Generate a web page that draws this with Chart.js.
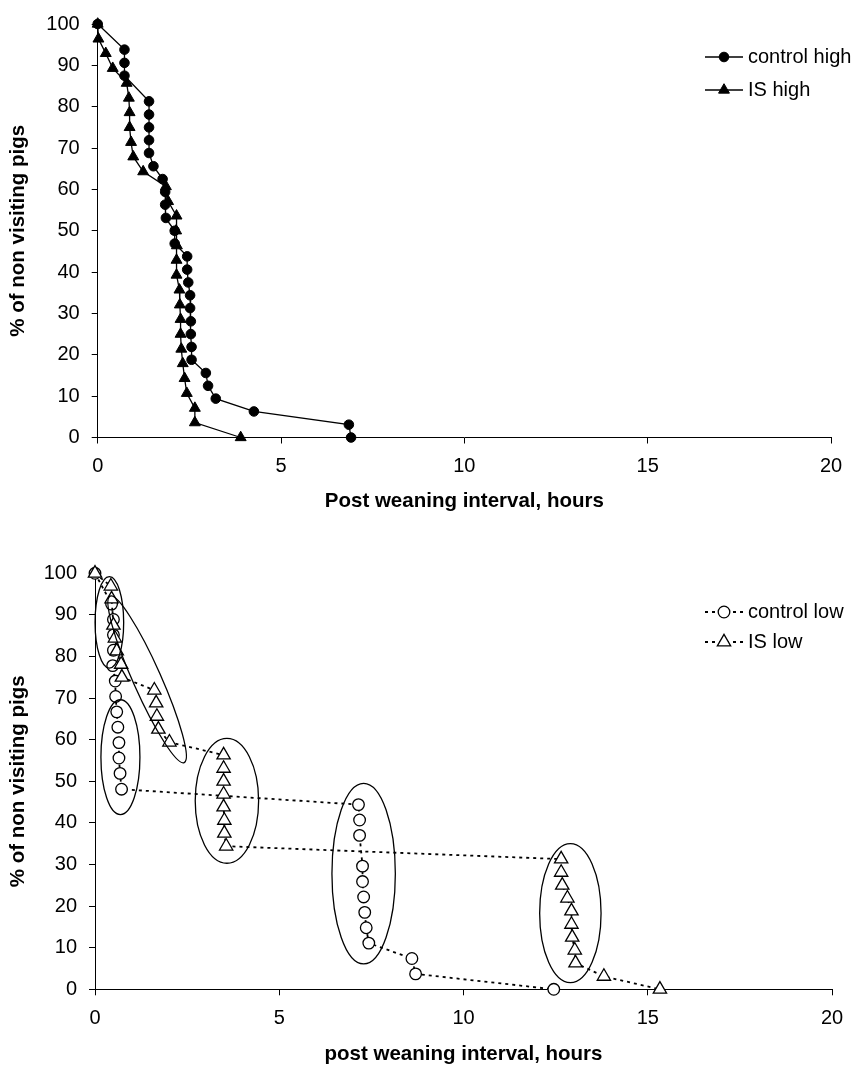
<!DOCTYPE html>
<html>
<head>
<meta charset="utf-8">
<script src="https://cdn.jsdelivr.net/npm/chart.js@4/dist/chart.umd.min.js"></script>
<style>
    html, body { margin: 0; padding: 0; background: #fff; }
    canvas { display: block; }
</style>
</head>
<body>
<canvas id="grafico-alto" width="856" height="535"></canvas>
<canvas id="grafico-baixo" width="856" height="535"></canvas>
<script>
// valores (horas apos o desmame, % de leitoes que ainda nao visitaram)
const horas_controle_alto = [0, 0.73, 0.73, 0.73, 1.40, 1.40, 1.40, 1.40, 1.40, 1.52, 1.77, 1.84, 1.84, 1.86, 2.10, 2.10,
    2.44, 2.44, 2.47, 2.52, 2.52, 2.54, 2.54, 2.56, 2.56, 2.95, 3.01, 3.22, 4.26, 6.85, 6.91];
const pct_controle_alto = [100, 93.8, 90.6, 87.5, 81.3, 78.1, 75.0, 71.9, 68.8, 65.6, 62.5, 59.4, 56.3, 53.1, 50.0, 46.9,
    43.8, 40.6, 37.5, 34.4, 31.3, 28.1, 25.0, 21.9, 18.8, 15.6, 12.5, 9.4, 6.3, 3.1, 0];

const horas_is_alto = [0, 0.02, 0.22, 0.41, 0.79, 0.85, 0.87, 0.87, 0.91, 0.97, 1.24, 1.86, 1.92, 2.15, 2.14, 2.16, 2.15,
    2.15, 2.23, 2.24, 2.26, 2.26, 2.28, 2.32, 2.37, 2.43, 2.65, 2.65, 3.90];
const pct_is_alto = [100, 96.4, 92.9, 89.3, 85.7, 82.1, 78.6, 75.0, 71.4, 67.9, 64.3, 60.7, 57.1, 53.6, 50.0, 46.4, 42.9,
    39.3, 35.7, 32.1, 28.6, 25.0, 21.4, 17.9, 14.3, 10.7, 7.1, 3.6, 0];

const horas_controle_baixo = [0, 0.45, 0.50, 0.50, 0.50, 0.48, 0.55, 0.56, 0.59, 0.62, 0.65, 0.65, 0.68, 0.72,
    7.15, 7.18, 7.18, 7.26, 7.26, 7.29, 7.32, 7.36, 7.43, 8.6, 8.7, 12.45];
const pct_controle_baixo = [100, 92.6, 88.9, 85.2, 81.5, 77.8, 74.1, 70.4, 66.7, 63.0, 59.3, 55.6, 51.9, 48.1,
    44.4, 40.7, 37.0, 29.6, 25.9, 22.2, 18.5, 14.8, 11.1, 7.4, 3.7, 0];

const horas_is_baixo = [0, 0.43, 0.45, 0.50, 0.54, 0.59, 0.71, 0.73, 1.61, 1.66, 1.68, 1.72, 2.02,
    3.49, 3.49, 3.49, 3.49, 3.49, 3.51, 3.51, 3.56, 12.65, 12.65, 12.68, 12.82, 12.93, 12.93, 12.95, 13.02, 13.04, 13.81, 15.33];
const pct_is_baixo = [100, 96.9, 93.8, 87.5, 84.4, 81.3, 78.1, 75.0, 71.9, 68.8, 65.6, 62.5, 59.4,
    56.3, 53.1, 50.0, 46.9, 43.8, 40.6, 37.5, 34.4, 31.3, 28.1, 25.0, 21.9, 18.8, 15.6, 12.5, 9.4, 6.3, 3.1, 0];

const ticks_x = [0, 5, 10, 15, 20];
const ticks_y = [0, 10, 20, 30, 40, 50, 60, 70, 80, 90, 100];

// elipses desenhadas a mao no grafico de baixo: extremos do eixo maior (horas, %)
const elipses_baixo = [
    { x1: 0.39, y1: 99.2, x2: 0.39, y2: 77.2, meia_largura: 14.3 },
    { x1: 0.41, y1: 94.5, x2: 2.42, y2: 54.5, meia_largura: 14 },
    { x1: 0.69, y1: 69.6, x2: 0.69, y2: 42.0, meia_largura: 19.5 },
    { x1: 3.58, y1: 60.3, x2: 3.58, y2: 30.3, meia_largura: 31.7 },
    { x1: 7.29, y1: 49.5, x2: 7.29, y2: 6.1, meia_largura: 31.7 },
    { x1: 12.9, y1: 35.0, x2: 12.9, y2: 1.6, meia_largura: 30.7 }
];

Chart.defaults.font.family = '"Liberation Sans", Arial, sans-serif';
Chart.defaults.font.size = 20;
Chart.defaults.color = '#000';

function juntar(horas, pct) {
    return horas.map((h, i) => ({ x: h, y: pct[i] }));
}

function desenhar_marcador(ctx, estilo, raio, x, y) {
    ctx.beginPath();
    if (estilo === 'triangle') {
        let ang = 0;
        ctx.moveTo(x + Math.sin(ang) * raio, y - Math.cos(ang) * raio);
        for (let k = 0; k < 2; k++) {
            ang += Math.PI * 2 / 3;
            ctx.lineTo(x + Math.sin(ang) * raio, y - Math.cos(ang) * raio);
        }
        ctx.closePath();
    } else {
        ctx.arc(x, y, raio, 0, Math.PI * 2);
    }
    ctx.fill();
    ctx.stroke();
}

const legenda_plugin = {
    id: 'legenda',
    afterDraw(chart, args, opts) {
        const ctx = chart.ctx;
        chart.data.datasets.forEach((ds, i) => {
            const y = opts.y + i * opts.passo;
            ctx.save();
            ctx.strokeStyle = ds.borderColor;
            ctx.lineWidth = ds.borderWidth;
            ctx.setLineDash(ds.borderDash || []);
            ctx.beginPath();
            ctx.moveTo(opts.x, y);
            ctx.lineTo(opts.x + opts.largura, y);
            ctx.stroke();
            ctx.setLineDash([]);
            ctx.fillStyle = ds.pointBackgroundColor;
            ctx.strokeStyle = ds.pointBorderColor;
            ctx.lineWidth = ds.pointBorderWidth;
            desenhar_marcador(ctx, ds.pointStyle, ds.pointRadius, opts.x + opts.largura / 2, y);
            ctx.fillStyle = '#000';
            ctx.font = '20px "Liberation Sans", Arial, sans-serif';
            ctx.textBaseline = 'middle';
            ctx.textAlign = 'left';
            ctx.fillText(ds.label, opts.x + opts.largura + 5, y);
            ctx.restore();
        });
    }
};

const elipses_plugin = {
    id: 'elipses',
    afterDatasetsDraw(chart, args, opts) {
        if (!opts.lista) return;
        const ctx = chart.ctx;
        const sx = chart.scales.x;
        const sy = chart.scales.y;
        ctx.save();
        ctx.strokeStyle = '#000';
        ctx.lineWidth = 1.3;
        opts.lista.forEach(e => {
            const x1 = sx.getPixelForValue(e.x1), y1 = sy.getPixelForValue(e.y1);
            const x2 = sx.getPixelForValue(e.x2), y2 = sy.getPixelForValue(e.y2);
            const raio = Math.hypot(x2 - x1, y2 - y1) / 2;
            const ang = Math.atan2(y2 - y1, x2 - x1);
            ctx.beginPath();
            ctx.ellipse((x1 + x2) / 2, (y1 + y2) / 2, raio, e.meia_largura, ang, 0, Math.PI * 2);
            ctx.stroke();
        });
        ctx.restore();
    }
};

function montar_eixos(titulo_x, largura_y, altura_x, pad_titulo_x) {
    return {
        x: {
            type: 'linear',
            min: 0,
            max: 20,
            afterBuildTicks: s => { s.ticks = ticks_x.map(v => ({ value: v })); },
            afterFit: s => { s.height = altura_x; },
            grid: { drawOnChartArea: false, color: '#000', tickLength: 6 },
            border: { color: '#000', width: 1 },
            ticks: { padding: 11, maxRotation: 0, autoSkip: false },
            title: {
                display: true,
                text: titulo_x,
                font: { size: 20.5, weight: 'bold' },
                padding: { top: 0, bottom: pad_titulo_x }
            }
        },
        y: {
            type: 'linear',
            min: 0,
            max: 100,
            afterBuildTicks: s => { s.ticks = ticks_y.map(v => ({ value: v })); },
            afterFit: s => { s.width = largura_y; },
            grid: { drawOnChartArea: false, color: '#000', tickLength: 6 },
            border: { color: '#000', width: 1 },
            ticks: { padding: 12 },
            title: {
                display: true,
                text: '% of non visiting pigs',
                font: { size: 20.5, weight: 'bold' },
                padding: { top: 6, bottom: 0 }
            }
        }
    };
}

function exibir_grafico(canvas, datasets, eixos, padding, legenda, elipses) {
    return new Chart(canvas, {
        type: 'scatter',
        data: { datasets },
        options: {
            responsive: false,
            animation: false,
            events: [],
            layout: { padding },
            scales: eixos,
            plugins: {
                legend: { display: false },
                tooltip: { enabled: false },
                legenda,
                elipses: { lista: elipses }
            }
        },
        plugins: [elipses_plugin, legenda_plugin]
    });
}

function serie_alta(label, horas, pct, estilo, raio, ordem) {
    return {
        label,
        data: juntar(horas, pct),
        showLine: true,
        borderColor: '#000',
        borderWidth: 1.3,
        pointStyle: estilo,
        pointRadius: raio,
        pointBackgroundColor: '#000',
        pointBorderColor: '#000',
        pointBorderWidth: 1,
        clip: false,
        order: ordem
    };
}

function serie_baixa(label, horas, pct, estilo, raio, ordem) {
    return {
        label,
        data: juntar(horas, pct),
        showLine: true,
        borderColor: '#000',
        borderWidth: 1.8,
        borderDash: [3, 4],
        pointStyle: estilo,
        pointRadius: raio,
        pointBackgroundColor: '#fff',
        pointBorderColor: '#000',
        pointBorderWidth: 1.3,
        clip: false,
        order: ordem
    };
}

exibir_grafico(
    document.getElementById('grafico-alto'),
    [
        serie_alta('control high', horas_controle_alto, pct_controle_alto, 'circle', 4.8, 0),
        serie_alta('IS high', horas_is_alto, pct_is_alto, 'triangle', 6.3, 1)
    ],
    montar_eixos('Post weaning interval, hours', 97.7, 97.5, 21),
    { top: 15.7, right: 25, left: 0, bottom: 0 },
    { x: 705, y: 57, passo: 33, largura: 38 },
    null
);

exibir_grafico(
    document.getElementById('grafico-baixo'),
    [
        serie_baixa('control low', horas_controle_baixo, pct_controle_baixo, 'circle', 5.8, 1),
        serie_baixa('IS low', horas_is_baixo, pct_is_baixo, 'triangle', 7.7, 0)
    ],
    montar_eixos('post weaning interval, hours', 95, 80.7, 3),
    { top: 38.3, right: 24, left: 0, bottom: 0 },
    { x: 705, y: 77, passo: 30, largura: 38 },
    elipses_baixo
);
</script>
</body>
</html>
